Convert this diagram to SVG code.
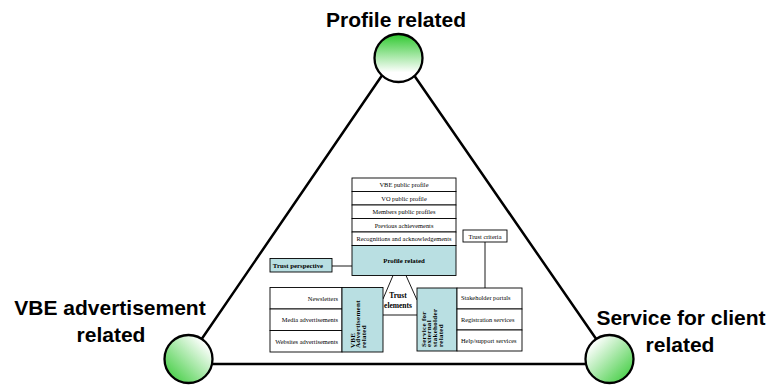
<svg xmlns="http://www.w3.org/2000/svg" width="774" height="385" viewBox="0 0 774 385">
<style>
.lbl{font-family:"Liberation Sans",Arial,sans-serif;font-weight:bold;font-size:21px;fill:#000;text-anchor:middle}
.t{font-family:"Liberation Serif","Times New Roman",serif;font-size:6.4px;fill:#000}
.tb{font-family:"Liberation Serif","Times New Roman",serif;font-size:6.8px;font-weight:bold;fill:#000}
.vt{font-family:"Liberation Serif","Times New Roman",serif;font-size:7px;font-weight:bold;fill:#000;letter-spacing:0.3px}
.cell{fill:#fff;stroke:#000;stroke-width:0.9}
.teal{fill:#b9dfe2;stroke:#000;stroke-width:0.9}
.edge{stroke:#000;stroke-width:2.5;fill:none}
.thin{stroke:#000;stroke-width:0.9;fill:none}
.circ{stroke:#000;stroke-width:2.3}
</style>
<defs>
<linearGradient id="gTop" x1="0" y1="0" x2="0" y2="1">
<stop offset="0" stop-color="#2ec82e"/><stop offset="0.8" stop-color="#fff"/>
</linearGradient>
<linearGradient id="gLeft" x1="1" y1="0" x2="0" y2="1">
<stop offset="0.15" stop-color="#fff"/><stop offset="1" stop-color="#2ec82e"/>
</linearGradient>
<linearGradient id="gRight" x1="0" y1="0" x2="1" y2="1">
<stop offset="0.15" stop-color="#fff"/><stop offset="1" stop-color="#2ec82e"/>
</linearGradient>
</defs>

<g id="connectors">
<path class="edge" d="M188,359 L398,52 L610,359"/>
<line class="edge" x1="190" y1="364" x2="608" y2="364"/>
<line class="thin" x1="332" y1="266" x2="365" y2="266"/>
<line class="thin" x1="393" y1="275.5" x2="383" y2="299"/>
<line class="thin" x1="406" y1="275.5" x2="417" y2="300"/>
<line class="thin" x1="383" y1="315" x2="417" y2="315"/>
<line class="thin" x1="485" y1="242" x2="485" y2="297"/>
</g>

<g id="node-profile">
<circle class="circ" cx="398.5" cy="58" r="24" fill="url(#gTop)"/>
<text class="lbl" x="396" y="27">Profile related</text>
</g>
<g id="node-vbe">
<circle class="circ" cx="188.5" cy="359" r="24" fill="url(#gLeft)"/>
<text class="lbl" x="110" y="315">VBE advertisement</text>
<text class="lbl" x="111" y="342">related</text>
</g>
<g id="node-service">
<circle class="circ" cx="609.5" cy="359" r="24" fill="url(#gRight)"/>
<text class="lbl" x="681" y="325">Service for client</text>
<text class="lbl" x="680" y="352">related</text>
</g>

<g id="profile-table">
<rect class="cell" x="352" y="178" width="104" height="13.5"/>
<rect class="cell" x="352" y="191.5" width="104" height="13.5"/>
<rect class="cell" x="352" y="205" width="104" height="13.5"/>
<rect class="cell" x="352" y="218.5" width="104" height="13.5"/>
<rect class="cell" x="352" y="232" width="104" height="13.5"/>
<rect class="teal" x="352" y="245.5" width="104" height="30"/>
<g class="t" text-anchor="middle">
<text x="404" y="187">VBE public profile</text>
<text x="404" y="200.5">VO public profile</text>
<text x="404" y="214">Members public profiles</text>
<text x="404" y="227.5">Previous achievements</text>
<text x="404" y="241">Recognitions and acknowledgements</text>
</g>
<text class="tb" x="404" y="263" text-anchor="middle">Profile related</text>
</g>

<g id="trust-perspective">
<rect class="teal" x="270" y="258.5" width="62" height="13.5"/>
<text class="tb" x="298" y="267.5" text-anchor="middle">Trust perspective</text>
</g>

<g id="trust-elements">
<text class="tb" x="398" y="298" text-anchor="middle" style="font-size:7.5px">Trust</text>
<text class="tb" x="398" y="308" text-anchor="middle" style="font-size:7.5px">elements</text>
</g>

<g id="vbe-table">
<rect class="cell" x="270" y="287.5" width="72" height="21.5"/>
<rect class="cell" x="270" y="309" width="72" height="21.5"/>
<rect class="cell" x="270" y="330.5" width="72" height="21.5"/>
<rect class="teal" x="342" y="287.5" width="41" height="64.5"/>
<g class="t" text-anchor="end">
<text x="338" y="300.5">Newsletters</text>
<text x="338" y="322">Media advertisements</text>
<text x="338" y="343.5">Websites advertisements</text>
</g>
<text class="vt" transform="translate(354.5,348) rotate(-90)"><tspan x="0" y="0">VBE</tspan><tspan x="0" dy="5.5">Advertisement</tspan><tspan x="0" dy="5.5">related</tspan></text>
</g>

<g id="service-table">
<rect class="teal" x="417" y="288" width="40" height="63"/>
<rect class="cell" x="457" y="288" width="65" height="21"/>
<rect class="cell" x="457" y="309" width="65" height="21"/>
<rect class="cell" x="457" y="330" width="65" height="21"/>
<g class="t">
<text x="461" y="300">Stakeholder portals</text>
<text x="461" y="322">Registration services</text>
<text x="461" y="343">Help/support services</text>
</g>
<text class="vt" transform="translate(425.5,347) rotate(-90)"><tspan x="0" y="0">Service for</tspan><tspan x="0" dy="5.8">external</tspan><tspan x="0" dy="5.8">stakeholder</tspan><tspan x="0" dy="5.8">related</tspan></text>
</g>

<g id="trust-criteria">
<rect class="cell" x="463" y="230" width="44" height="12"/>
<text class="t" x="485" y="238.5" text-anchor="middle">Trust criteria</text>
</g>
</svg>
